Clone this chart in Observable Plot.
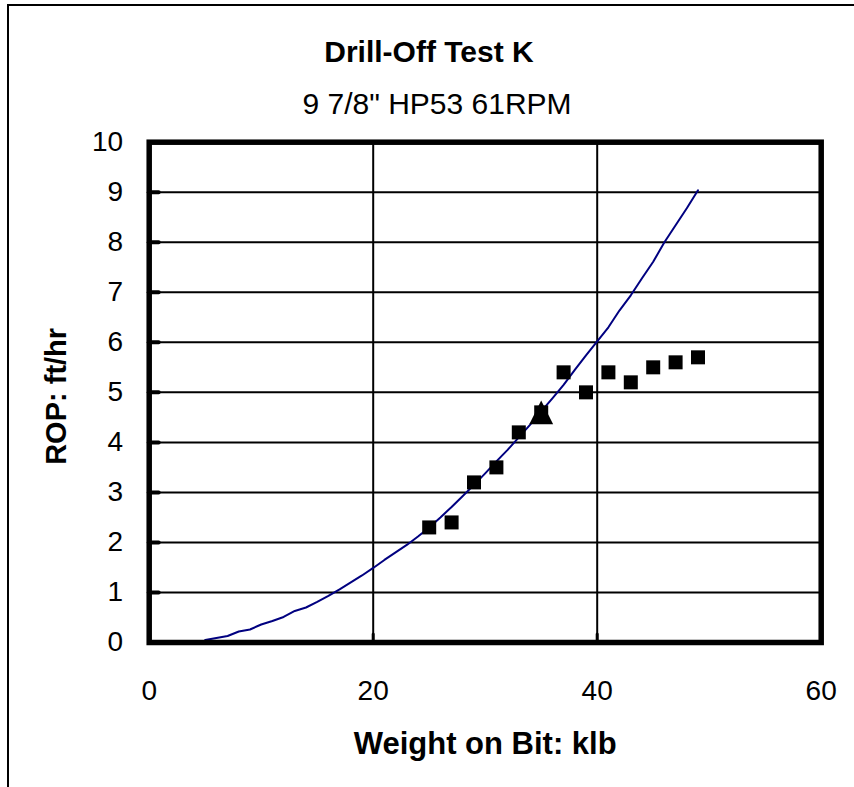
<!DOCTYPE html>
<html><head><meta charset="utf-8">
<script src="https://cdn.jsdelivr.net/npm/d3@7"></script>
<script src="https://cdn.jsdelivr.net/npm/@observablehq/plot@0.6"></script>
<style>
body{margin:0;background:#fff;}
#wrap{position:relative;width:854px;height:787px;overflow:hidden;font-family:"Liberation Sans",Arial,sans-serif;color:#000;}
#ft{position:absolute;left:7px;top:4px;width:847px;height:2px;background:#000;}
#fl{position:absolute;left:7px;top:4px;width:2px;height:783px;background:#000;}
.t{position:absolute;left:8px;width:842px;text-align:center;white-space:nowrap;}
#title{top:35px;font-size:30px;font-weight:bold;line-height:34px;}
#sub{top:87px;left:16px;font-size:30px;line-height:33px;}
#chart{position:absolute;left:0;top:120px;}
</style></head>
<body><div id="wrap"><div id="ft"></div><div id="fl"></div>
<div class="t" id="title">Drill-Off Test K</div>
<div class="t" id="sub">9 7/8" HP53 61RPM</div>
<div id="chart"></div></div>
<script>
const xTicks = [0, 20, 40, 60];
const yTicks = [0, 1, 2, 3, 4, 5, 6, 7, 8, 9, 10];
const gridXValues = [20, 40];
const gridYValues = [1, 2, 3, 4, 5, 6, 7, 8, 9];

// measured points (squares)
const measWOB = [25, 27, 29, 31, 33, 35, 37, 39, 41, 43, 45, 47, 49];
const measROP = [2.3, 2.4, 3.2, 3.5, 4.2, 4.6, 5.4, 5.0, 5.4, 5.2, 5.5, 5.6, 5.7];
// highlighted point (triangle)
const triWOB = [35];
const triROP = [4.6];
// model curve
const curveWOB = [5,6,7,8,9,10,11,12,13,14,15,16,17,18,19,20,21,22,23,24,25,26,27,28,29,30,31,32,33,34,35,36,37,38,39,40,41,42,43,44,45,46,47,48,49];
const curveROP = [0.05,0.09,0.13,0.22,0.26,0.36,0.43,0.51,0.63,0.70,0.81,0.93,1.06,1.20,1.34,1.49,1.65,1.80,1.95,2.12,2.30,2.50,2.71,2.93,3.15,3.38,3.62,3.85,4.10,4.35,4.62,4.88,5.15,5.45,5.74,6.02,6.30,6.64,6.94,7.28,7.61,8.00,8.34,8.68,9.04];

const meas = measWOB.map((x, i) => ({x, y: measROP[i]}));
const tri = triWOB.map((x, i) => ({x, y: triROP[i]}));
const curve = curveWOB.map((x, i) => ({x, y: curveROP[i]}));

const W = 854, H = 667;
const mL = 148.7, mR = 33.3, mT = 21.7, mB = 145;
const pw = W - mL - mR, ph = H - mT - mB;

// triangle centred on its bounding box
const triSym = {draw(ctx, size) {
  const s = Math.sqrt(size) * 1.4;
  ctx.moveTo(0, -s / 2);
  ctx.lineTo(s / 2, s / 2);
  ctx.lineTo(-s / 2, s / 2);
  ctx.closePath();
}};

const plot = Plot.plot({
  width: W, height: H,
  marginLeft: mL, marginRight: mR, marginTop: mT, marginBottom: mB,
  style: {fontFamily: '"Liberation Sans", Arial, sans-serif', background: "transparent", color: "#000"},
  x: {domain: [0, 60]},
  y: {domain: [0, 10]},
  marks: [
    Plot.gridY(gridYValues, {stroke: "#000", strokeOpacity: 1, strokeWidth: 2}),
    Plot.gridX(gridXValues, {stroke: "#000", strokeOpacity: 1, strokeWidth: 2}),
    Plot.tickY(yTicks.slice(1, -1), {y: d => d, stroke: "#000", strokeWidth: 4, strokeLinecap: "round", insetRight: pw - 10}),
    Plot.tickX(gridXValues, {x: d => d, stroke: "#000", strokeWidth: 3, strokeLinecap: "round", insetTop: ph - 8}),
    Plot.axisY(yTicks, {tickSize: 0, tickPadding: 26, fontSize: 28, label: null, tickFormat: d => String(d)}),
    Plot.axisX(xTicks, {tickSize: 0, tickPadding: 38, fontSize: 28, label: null, tickFormat: d => String(d)}),
    Plot.line(curve, {x: "x", y: "y", stroke: "#000080", strokeWidth: 2}),
    Plot.dot(meas, {x: "x", y: "y", symbol: "square", r: 7.9, fill: "#000", stroke: "none"}),
    Plot.dot(tri, {x: "x", y: "y", symbol: triSym, r: 9.6, fill: "#000", stroke: "none"}),
    Plot.frame({stroke: "#000", strokeWidth: 5.5}),
    Plot.text(["ROP: ft/hr"], {frameAnchor: "left", dx: -92, dy: 4, rotate: -90, textAnchor: "middle", fontSize: 29, fontWeight: "bold", fill: "#000"}),
    Plot.text(["Weight on Bit: klb"], {frameAnchor: "bottom", dy: 111, fontSize: 31, fontWeight: "bold", fill: "#000"})
  ]
});
document.getElementById("chart").appendChild(plot);
</script>
</body></html>
